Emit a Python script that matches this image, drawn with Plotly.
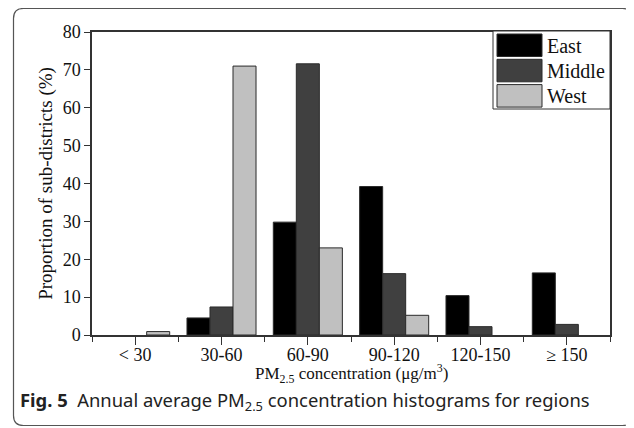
import plotly.graph_objects as go

categories = ["< 30", "30-60", "60-90", "90-120", "120-150", "\u2265 150"]
series_names = ["East", "Middle", "West"]
east = [0, 4.5, 29.8, 39.2, 10.4, 16.4]
middle = [0, 7.4, 71.6, 16.2, 2.2, 2.8]
west = [0.9, 71.0, 23.0, 5.2, 0, 0]
series_values = [east, middle, west]
colors = ["#000000", "#404040", "#c0c0c0"]
y_ticks = [0, 10, 20, 30, 40, 50, 60, 70, 80]

# page has an 8px body margin; figure is sized/offset to compensate
OFF = 8
W, H = 634 - OFF, 428 - OFF
ML, MT = 92 - OFF, 32 - OFF
MR = W - (610 - OFF)
MB = H - (335 - OFF)
PW, PH = W - ML - MR, H - MT - MB

def px(x):  # page pixel -> paper
    return (x - OFF - ML) / PW

def py(y):
    return (H - MB - (y - OFF)) / PH

serif = "Liberation Serif, Times New Roman, serif"
xs = list(range(len(categories)))

fig = go.Figure()
for name, vals, col in zip(series_names, series_values, colors):
    fig.add_trace(go.Bar(
        x=xs, y=vals, name=name,
        marker=dict(color=col, line=dict(color="#2a2a2a",
                                         width=[1 if v > 0 else 0 for v in vals])),
        showlegend=False,
    ))

fig.update_layout(
    width=W, height=H,
    margin=dict(l=ML, r=MR, t=MT, b=MB),
    paper_bgcolor="white", plot_bgcolor="white",
    barmode="group", bargap=0.2, bargroupgap=0,
    font=dict(family=serif, size=15, color="#111"),
)
fig.update_xaxes(
    range=[-0.5, len(categories) - 0.5],
    tickmode="array", tickvals=xs, ticktext=categories,
    ticks="outside", ticklen=8, tickwidth=1.3, tickcolor="#333",
    minor=dict(ticks="outside", ticklen=5, tick0=0.5, dtick=1, tickwidth=1.3, tickcolor="#333"),
    showline=True, linecolor="#333", linewidth=1.5, mirror=True,
    showgrid=False, zeroline=False,
    tickfont=dict(family=serif, size=18),
    ticklabelstandoff=-5,
)
fig.update_yaxes(
    range=[0, 80], tickmode="array", tickvals=y_ticks,
    ticks="outside", ticklen=6, tickwidth=1.3, tickcolor="#333",
    showline=True, linecolor="#333", linewidth=1.5, mirror=True,
    showgrid=False, zeroline=False,
    tickfont=dict(family=serif, size=18),
    title=dict(text="Proportion of sub-districts (%)",
               font=dict(family=serif, size=19), standoff=5),
)

# x-axis title
fig.add_annotation(xref="paper", yref="paper", x=0.5, y=py(373),
                   text="PM<sub>2.5</sub> concentration (\u03bcg/m<sup>3</sup>)",
                   showarrow=False, xanchor="center", yanchor="middle", borderpad=0,
                   font=dict(family=serif, size=17, color="#111"))

# custom legend with large swatches
lx0, lx1, ly0, ly1 = 493, 610, 31, 109
fig.add_shape(type="rect", xref="paper", yref="paper",
              x0=px(lx0), x1=px(lx1), y0=py(ly1), y1=py(ly0),
              line=dict(color="#333", width=1), fillcolor="white", layer="above")
for i, (name, col) in enumerate(zip(series_names, colors)):
    top = 34 + i * 25.3
    fig.add_shape(type="rect", xref="paper", yref="paper",
                  x0=px(497), x1=px(542), y0=py(top + 22.5), y1=py(top),
                  line=dict(color="#2a2a2a", width=1), fillcolor=col, layer="above")
    fig.add_annotation(xref="paper", yref="paper", x=px(546), y=py(top + 11.5),
                       text=name, showarrow=False, xanchor="left", yanchor="middle",
                       borderpad=0, font=dict(family=serif, size=20, color="#111"))

# caption
fig.add_annotation(xref="paper", yref="paper", x=px(19), y=py(401),
                   text="<b>Fig. 5</b>  Annual average PM<sub>2.5</sub> concentration histograms for regions",
                   showarrow=False, xanchor="left", yanchor="middle", borderpad=0,
                   font=dict(family="Noto Sans, Open Sans, sans-serif", size=18.4, color="#222"))

# outer rounded frame
x0, x1, y0, y1, r = 13.5, 632.5, 8.5, 425.5, 10
def P(x, y):
    return f"{px(x):.5f},{py(y):.5f}"
path = (f"M {P(x0, y0 + r)} Q {P(x0, y0)} {P(x0 + r, y0)} "
        f"L {P(x1 - r, y0)} Q {P(x1, y0)} {P(x1, y0 + r)} "
        f"L {P(x1, y1 - r)} Q {P(x1, y1)} {P(x1 - r, y1)} "
        f"L {P(x0 + r, y1)} Q {P(x0, y1)} {P(x0, y1 - r)} Z")
fig.add_shape(type="path", xref="paper", yref="paper", path=path,
              line=dict(color="#555", width=1.2))

fig.write_html("out.html")
